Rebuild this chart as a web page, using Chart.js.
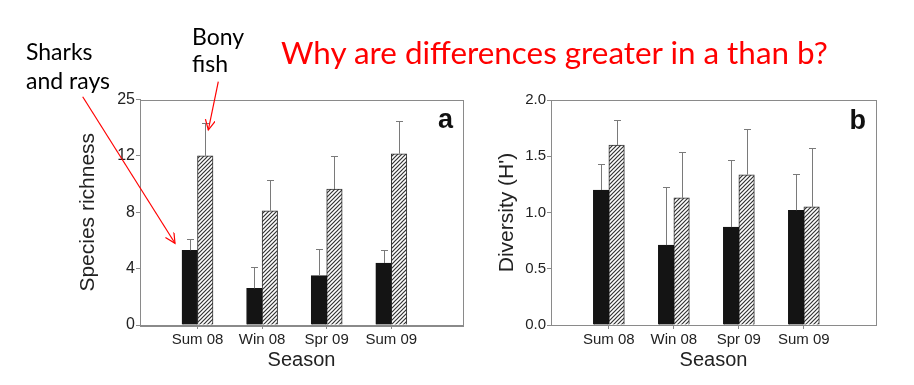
<!DOCTYPE html>
<html>
<head>
<meta charset="utf-8">
<script src="https://cdn.jsdelivr.net/npm/chart.js@4.4.1/dist/chart.umd.min.js"></script>
<style>
  body { margin: 0; width: 914px; height: 385px; background: #fff; position: relative; overflow: hidden; }
  .panel { position: absolute; top: 0; height: 385px; }
  #panelA { left: 0; width: 480px; }
  #panelB { left: 470px; width: 444px; }
  svg { position: absolute; left: 0; top: 0; pointer-events: none; }
  svg text { font-family: Lato, "Open Sans", sans-serif; }
</style>
</head>
<body>
<div class="panel" id="panelA"><canvas id="richness"></canvas></div>
<div class="panel" id="panelB"><canvas id="diversity"></canvas></div>
<svg width="914" height="385">
  <defs>
    <marker id="head" markerWidth="12" markerHeight="12" refX="10" refY="5" orient="auto" markerUnits="userSpaceOnUse">
      <path d="M0,0 L10,5 L0,10" fill="none" stroke="#f00" stroke-width="1.2"/>
    </marker>
  </defs>
  <text x="281" y="64" fill="#f00" font-size="31.4">Why are differences greater in a than b?</text>
  <text x="26" y="60" fill="#000" font-size="23">Sharks</text>
  <text x="26" y="89" fill="#000" font-size="23">and rays</text>
  <text x="192" y="45" fill="#000" font-size="23">Bony</text>
  <text x="192" y="72" fill="#000" font-size="23">fish</text>
  <line x1="82.7" y1="96.7" x2="175" y2="243.3" stroke="#f00" stroke-width="1.2" marker-end="url(#head)"/>
  <line x1="218.3" y1="81.7" x2="208.3" y2="130" stroke="#f00" stroke-width="1.2" marker-end="url(#head)"/>
</svg>
<script>
const seasons = ['Sum 08', 'Win 08', 'Spr 09', 'Sum 09'];

// panel a: species richness
const richnessSharks = [5.3, 2.6, 3.5, 4.4];
const richnessSharksErr = [0.8, 1.5, 1.9, 0.9];
const richnessBony = [12.0, 8.1, 9.65, 12.15];
const richnessBonyErr = [2.3, 2.2, 2.35, 2.35];
const richnessTicks = ['0', '4', '8', '12', '25'];

// panel b: diversity (H')
const diversitySharks = [1.2, 0.71, 0.87, 1.02];
const diversitySharksErr = [0.23, 0.52, 0.6, 0.32];
const diversityBony = [1.6, 1.13, 1.335, 1.05];
const diversityBonyErr = [0.22, 0.41, 0.41, 0.52];
const diversityTicks = ['0.0', '0.5', '1.0', '1.5', '2.0'];

Chart.defaults.font.family = '"Liberation Sans", Arial, sans-serif';
Chart.defaults.color = '#222';

const axisGrey = '#8a8a8a';

function hatch() {
  const c = document.createElement('canvas');
  c.width = 4; c.height = 4;
  const g = c.getContext('2d');
  g.fillStyle = '#fff';
  g.fillRect(0, 0, 4, 4);
  g.strokeStyle = '#333';
  g.lineWidth = 1.2;
  g.beginPath();
  g.moveTo(0, 4); g.lineTo(4, 0);
  g.moveTo(-1, 1); g.lineTo(1, -1);
  g.moveTo(3, 5); g.lineTo(5, 3);
  g.stroke();
  return g.createPattern(c, 'repeat');
}

function toPoints(vals) {
  return vals.map((v, i) => ({ x: i + 1, y: v }));
}

// upper error bars with a small cap
const errorBars = {
  id: 'errorBars',
  afterDatasetsDraw(chart, args, opts) {
    const ctx = chart.ctx, y = chart.scales.y;
    ctx.save();
    ctx.strokeStyle = '#7a7a7a';
    ctx.lineWidth = 1;
    chart.data.datasets.forEach((ds, i) => {
      chart.getDatasetMeta(i).data.forEach((bar, j) => {
        const top = Math.round(y.getPixelForValue(ds.data[j].y + opts.errors[i][j])) + 0.5;
        const x = Math.round(bar.x) + 0.5;
        ctx.beginPath();
        ctx.moveTo(x, bar.y);
        ctx.lineTo(x, top);
        ctx.moveTo(x - 3.5, top);
        ctx.lineTo(x + 3.5, top);
        ctx.stroke();
      });
    });
    ctx.restore();
  }
};

// box round the plot and the panel letter
const frame = {
  id: 'frame',
  afterDraw(chart, args, opts) {
    const { ctx, chartArea: a } = chart;
    ctx.save();
    ctx.strokeStyle = axisGrey;
    ctx.lineWidth = 1;
    ctx.strokeRect(Math.round(a.left) + 0.5, Math.round(a.top) + 0.5,
      Math.round(a.right - a.left), Math.round(a.bottom - a.top));
    ctx.font = 'bold 27px "Liberation Sans", Arial, sans-serif';
    ctx.fillStyle = '#111';
    ctx.textAlign = 'right';
    ctx.textBaseline = 'alphabetic';
    ctx.fillText(opts.letter, a.right - 10, a.top + 28.5);
    ctx.restore();
  }
};

function makeChart(id, p) {
  return new Chart(document.getElementById(id), {
    type: 'bar',
    data: {
      datasets: [
        { label: 'Sharks and rays', data: toPoints(p.sharks), backgroundColor: '#141414', borderColor: '#141414', borderWidth: 1 },
        { label: 'Bony fish', data: toPoints(p.bony), backgroundColor: hatch(), borderColor: '#333', borderWidth: 1 }
      ]
    },
    options: {
      responsive: true,
      maintainAspectRatio: false,
      animation: false,
      barThickness: 15.5,
      layout: { padding: p.padding },
      plugins: {
        legend: { display: false },
        tooltip: { enabled: false },
        errorBars: { errors: [p.sharksErr, p.bonyErr] },
        frame: { letter: p.letter }
      },
      scales: {
        x: {
          type: 'linear',
          offset: false,
          min: 0.11,
          max: 5.11,
          afterBuildTicks: s => { s.ticks = seasons.map((_, i) => ({ value: i + 1 })); },
          afterFit: s => { s.height = 51.5; },
          ticks: { callback: v => seasons[v - 1], font: { size: 15 }, padding: 2, autoSkip: false, maxRotation: 0 },
          grid: { offset: false, drawOnChartArea: false, tickLength: 4, color: axisGrey },
          border: { color: axisGrey },
          title: { display: true, text: 'Season', font: { size: 20 }, padding: { top: 4, bottom: 4 } }
        },
        y: {
          min: 0,
          max: p.max,
          afterBuildTicks: s => { s.ticks = p.ticks.map((_, i) => ({ value: i * p.step })); },
          afterFit: s => { s.width = p.yWidth; },
          ticks: { callback: (v, i) => p.ticks[i], font: { size: p.tickSize }, padding: 1 },
          grid: { drawOnChartArea: false, tickLength: 4, color: axisGrey },
          border: { color: axisGrey },
          title: { display: true, text: p.yTitle, font: { size: 21 }, padding: { top: 4, bottom: 4 } }
        }
      }
    },
    plugins: [errorBars, frame]
  });
}

makeChart('richness', {
  sharks: richnessSharks, sharksErr: richnessSharksErr,
  bony: richnessBony, bonyErr: richnessBonyErr,
  ticks: richnessTicks, step: 4, max: 16, tickSize: 16,
  yTitle: 'Species richness', letter: 'a', yWidth: 68.6,
  padding: { left: 71.4, top: 99.5, right: 17, bottom: 8.5 }
});

makeChart('diversity', {
  sharks: diversitySharks, sharksErr: diversitySharksErr,
  bony: diversityBony, bonyErr: diversityBonyErr,
  ticks: diversityTicks, step: 0.5, max: 2, tickSize: 15,
  yTitle: "Diversity (H')", letter: 'b', yWidth: 60.6,
  padding: { left: 20.4, top: 100, right: 38, bottom: 8.5 }
});
</script>
</body>
</html>
